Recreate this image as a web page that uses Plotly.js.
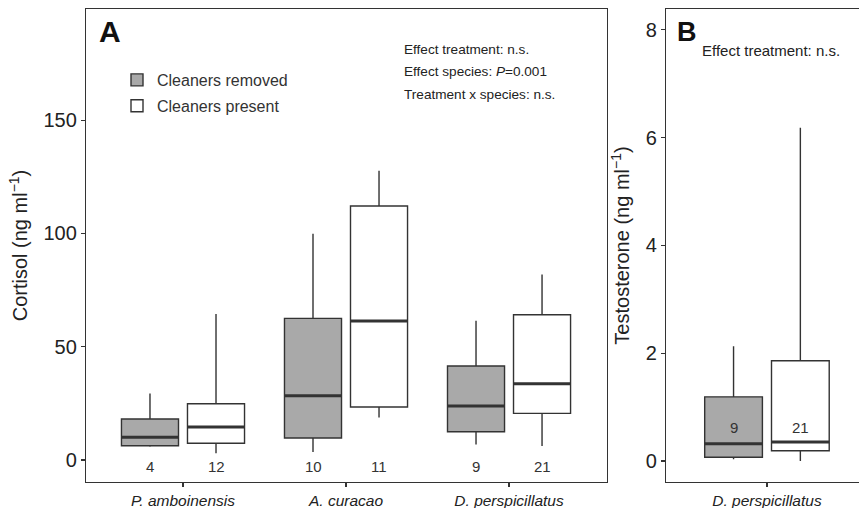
<!DOCTYPE html>
<html>
<head>
<meta charset="utf-8">
<script src="https://cdn.plot.ly/plotly-3.0.1.min.js"></script>
<style>html,body{margin:0;padding:0;background:#fff}#chart{width:859px;height:508px}</style>
</head>
<body>
<div id="chart"></div>
<script>
// ---------- Data ----------
var speciesA = ['P. amboinensis', 'A. curacao', 'D. perspicillatus'];
var cortRemovedLower  = [5.8, 3.5, 6.9];
var cortRemovedQ1     = [6.3, 9.7, 12.5];
var cortRemovedMedian = [10.0, 28.4, 23.8];
var cortRemovedQ3     = [18.1, 62.5, 41.5];
var cortRemovedUpper  = [29.4, 99.8, 61.5];
var cortPresentLower  = [3.0, 18.8, 6.2];
var cortPresentQ1     = [7.4, 23.4, 20.6];
var cortPresentMedian = [14.6, 61.3, 33.7];
var cortPresentQ3     = [24.8, 112.1, 64.1];
var cortPresentUpper  = [64.4, 127.6, 81.9];
var nRemovedA = [4, 10, 9];
var nPresentA = [12, 11, 21];

var speciesB = ['D. perspicillatus'];
var testRemovedLower  = [0.03];
var testRemovedQ1     = [0.07];
var testRemovedMedian = [0.32];
var testRemovedQ3     = [1.19];
var testRemovedUpper  = [2.13];
var testPresentLower  = [0.0];
var testPresentQ1     = [0.19];
var testPresentMedian = [0.35];
var testPresentQ3     = [1.86];
var testPresentUpper  = [6.18];
var nRemovedB = [9];
var nPresentB = [21];

var yTicksA = [0, 50, 100, 150];
var yTicksB = [0, 2, 4, 6, 8];

// ---------- Styles ----------
var DARK = '#333333';
var GRAY = '#a9a9a9';
var FONT = 'Liberation Sans, Arial, sans-serif';

function boxTrace(name, x, lo, q1, med, q3, hi, fill, xa, ya, og, showLeg) {
  return {
    type: 'box', name: name, x: x, q1: q1, median: med, q3: q3,
    lowerfence: lo, upperfence: hi, fillcolor: fill,
    line: {color: DARK, width: 1.4}, whiskerwidth: 0,
    xaxis: xa, yaxis: ya, offsetgroup: og, showlegend: showLeg,
    legendgroup: name, hoverinfo: 'skip'
  };
}
function medTrace(name, x, med, xa, ya, og) {
  return {
    type: 'box', name: name, x: x, q1: med, median: med, q3: med,
    lowerfence: med, upperfence: med, fillcolor: 'rgba(0,0,0,0)',
    line: {color: DARK, width: 3}, whiskerwidth: 0,
    xaxis: xa, yaxis: ya, offsetgroup: og, showlegend: false, hoverinfo: 'skip'
  };
}

var traces = [
  boxTrace('Cleaners removed', speciesA, cortRemovedLower, cortRemovedQ1, cortRemovedMedian, cortRemovedQ3, cortRemovedUpper, GRAY, 'x', 'y', 'rem', true),
  boxTrace('Cleaners present', speciesA, cortPresentLower, cortPresentQ1, cortPresentMedian, cortPresentQ3, cortPresentUpper, '#ffffff', 'x', 'y', 'pres', true),
  medTrace('median removed', speciesA, cortRemovedMedian, 'x', 'y', 'rem'),
  medTrace('median present', speciesA, cortPresentMedian, 'x', 'y', 'pres'),
  boxTrace('Cleaners removed', speciesB, testRemovedLower, testRemovedQ1, testRemovedMedian, testRemovedQ3, testRemovedUpper, GRAY, 'x2', 'y2', 'rem', false),
  boxTrace('Cleaners present', speciesB, testPresentLower, testPresentQ1, testPresentMedian, testPresentQ3, testPresentUpper, '#ffffff', 'x2', 'y2', 'pres', false),
  medTrace('median removed', speciesB, testRemovedMedian, 'x2', 'y2', 'rem'),
  medTrace('median present', speciesB, testPresentMedian, 'x2', 'y2', 'pres')
];

var W = 859, H = 508;
var yDom = [1 - 482 / H, 1 - 9 / H];
var OFF = 0.2025; // half slot offset of grouped boxes (category units)

var annotations = [];
function countLabels(cats, nr, np, xref, yref, yv, size) {
  cats.forEach(function (c, i) {
    annotations.push({x: i - OFF, y: yv, xref: xref, yref: yref, text: String(nr[i]), showarrow: false,
      font: {family: FONT, size: size, color: DARK}, xanchor: 'center', yanchor: 'middle'});
    annotations.push({x: i + OFF, y: yv, xref: xref, yref: yref, text: String(np[i]), showarrow: false,
      font: {family: FONT, size: size, color: DARK}, xanchor: 'center', yanchor: 'middle'});
  });
}
countLabels(speciesA, nRemovedA, nPresentA, 'x', 'y', -2.9, 15);
countLabels(speciesB, nRemovedB, nPresentB, 'x2', 'y2', 0.63, 15);

function paperText(txt, px, py, size, bold, anchor) {
  annotations.push({x: px / W, y: 1 - py / H, xref: 'paper', yref: 'paper', text: bold ? '<b>' + txt + '</b>' : txt,
    showarrow: false, xanchor: anchor || 'left', yanchor: 'middle',
    font: {family: FONT, size: size, color: bold ? '#111' : '#222'}});
}
paperText('A', 110, 31, 30, true, 'center');
paperText('B', 687, 32, 27, true, 'center');
paperText('Effect treatment: n.s.', 402, 49, 13.6);
paperText('Effect species: <i>P</i>=0.001', 402, 71.5, 13.6);
paperText('Treatment x species: n.s.', 402, 94, 13.6);
paperText('Effect treatment: n.s.', 700, 50, 15);

var axisCommon = {
  showline: true, linecolor: DARK, linewidth: 1.2, ticks: 'outside', ticklen: 4,
  tickcolor: DARK, tickwidth: 1.1, showgrid: false, zeroline: false, automargin: false
};

var layout = {
  width: W, height: H,
  margin: {l: 0, r: 0, t: 0, b: 0},
  paper_bgcolor: '#fff', plot_bgcolor: '#fff',
  font: {family: FONT, color: DARK},
  boxmode: 'group', boxgap: 0.19, boxgroupgap: 0.136,
  showlegend: true,
  legend: {x: 117 / W, y: 1 - 63 / H, xanchor: 'left', yanchor: 'top', bgcolor: 'rgba(0,0,0,0)',
    font: {family: FONT, size: 16, color: DARK}, traceorder: 'grouped', tracegroupgap: 2},
  xaxis: Object.assign({}, axisCommon, {
    domain: [86 / W, 607 / W], anchor: 'y', type: 'category', mirror: true,
    categoryorder: 'array', categoryarray: speciesA,
    range: [-0.595, 2.601],
    tickvals: speciesA, ticktext: speciesA.map(function (s) { return '<i>' + s + '</i>'; }),
    tickfont: {family: FONT, size: 15.5, color: '#222'}
  }),
  yaxis: Object.assign({}, axisCommon, {
    domain: yDom, anchor: 'x', mirror: true, range: [-9.7, 199], tickvals: yTicksA,
    tickfont: {family: FONT, size: 20, color: '#222'},
    title: {text: 'Cortisol (ng ml<sup>−1</sup>)', font: {family: FONT, size: 20, color: '#222'}, standoff: 10}
  }),
  xaxis2: Object.assign({}, axisCommon, {
    domain: [666 / W, 1], anchor: 'y2', type: 'category', mirror: true,
    categoryorder: 'array', categoryarray: speciesB,
    range: [-0.612, 0.558],
    tickvals: speciesB, ticktext: speciesB.map(function (s) { return '<i>' + s + '</i>'; }),
    tickfont: {family: FONT, size: 15.5, color: '#222'}
  }),
  yaxis2: Object.assign({}, axisCommon, {
    domain: yDom, anchor: 'x2', mirror: false, range: [-0.39, 8.385], tickvals: yTicksB,
    tickfont: {family: FONT, size: 20, color: '#222'},
    title: {text: 'Testosterone (ng ml<sup>−1</sup>)', font: {family: FONT, size: 20, color: '#222'}, standoff: 10}
  }),
  annotations: annotations
};

Plotly.newPlot('chart', traces, layout, {displayModeBar: false, staticPlot: true});
</script>
</body>
</html>
